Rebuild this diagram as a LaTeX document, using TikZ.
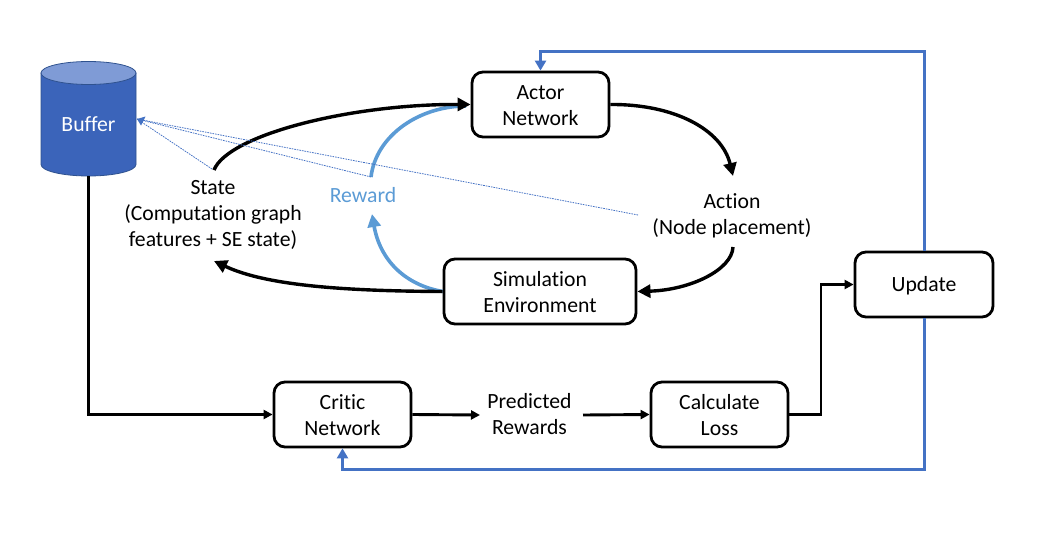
\documentclass[tikz,border=0pt]{standalone}
\usepackage{fontspec}
\setmainfont[Ligatures=NoCommon]{Carlito}
\usetikzlibrary{arrows.meta}
\definecolor{blueline}{HTML}{4472C4}
\definecolor{lightblueline}{HTML}{5B9BD5}
\definecolor{bufferbody}{HTML}{3B64BA}
\definecolor{buffertop}{HTML}{7F9BD6}
\definecolor{bufferedge}{HTML}{2F528F}
\newcommand{\boxstrut}{\rule{0pt}{17pt}}
\tikzset{
  box/.style={draw=black,line width=2.8pt,rounded corners=11pt,fill=white,align=center,font=\fontsize{21.7}{26}\selectfont,inner sep=0pt},
  label/.style={align=center,font=\fontsize{21.7}{26}\selectfont,inner sep=0pt},
  thickarc/.style={draw=black,line width=3.4pt,-{Triangle[length=13pt,width=13pt]}},
  elbow/.style={draw=black,line width=2.9pt,-{Triangle[length=9pt,width=9pt]}},
  updateline/.style={draw=blueline,line width=3pt,-{Triangle[length=10pt,width=11pt]}},
  rewardarc/.style={draw=lightblueline,line width=3.6pt},
  dotline/.style={draw=blueline,line width=0.8pt,dash pattern=on 1.6pt off 1pt},
  cylpart/.style={draw=bufferedge,line width=0.8pt},
}
\begin{document}
\begin{tikzpicture}[x=1pt,y=-1pt]
\useasboundingbox (0,0) rectangle (1050,546);
% buffer drum
\path[cylpart,fill=bufferbody] (41,73) -- (41,164.5) arc[start angle=180,end angle=360,x radius=47.5,y radius=-11.5] -- (136,73) -- cycle;
\path[cylpart,fill=buffertop] (88.5,73) ellipse[x radius=47.5,y radius=11.5];
% nodes
\node[box,minimum width=137pt,minimum height=65pt] (actor) at (540.5,104.5) {\boxstrut Actor\\Network};
\node[box,minimum width=192pt,minimum height=65pt] (sim) at (540,291.5) {\boxstrut Simulation\\Environment};
\node[box,minimum width=138pt,minimum height=65pt] (update) at (924,284.5) {\boxstrut Update};
\node[box,minimum width=137pt,minimum height=65pt] (critic) at (342.5,414.5) {\boxstrut Critic\\Network};
\node[box,minimum width=137pt,minimum height=65pt] (loss) at (719.5,414.5) {\boxstrut Calculate\\Loss};
\node[label] (state) at (213,215) {State\\(Computation graph\\features + SE state)};
\node[label] (action) at (732,216) {Action\\(Node placement)};
\node[label,text=lightblueline] (reward) at (363,195) {Reward};
\node[label] (pred) at (529.5,414) {Predicted\\Rewards};
\node[label,text=white,minimum width=95pt,minimum height=104pt] (buffer) at (88.5,124) {Buffer};
% named free ends
\coordinate (stateout) at (214,170);
\coordinate (statein) at (214,261);
\coordinate (bufferin) at (137,119);
\coordinate (actionin) at (733,176);
\coordinate (actionout) at (733,247);
\coordinate (rewardin) at (372,214);
\coordinate (rewardout) at (371,177);
\coordinate (dotstate) at (212,169);
\coordinate (dotaction) at (638,215);
\coordinate (predin) at (480,415);
\coordinate (predout) at (583,415);
% blue reward arcs
\draw[rewardarc] (rewardout) .. controls (376,135) and (420,106) .. (466,106);
\draw[rewardarc,-{Triangle[length=13pt,width=13pt]}] (sim.west) .. controls (405,285) and (380,260) .. (rewardin);
% black arcs
\draw[thickarc] (stateout) .. controls (228,135) and (350,104) .. (actor.west);
\draw[thickarc] (actor.east) .. controls (675,104) and (722,130) .. (actionin);
\draw[thickarc] (actionout) .. controls (732,270) and (690,290) .. (sim.east);
\draw[thickarc] (sim.west) .. controls (340,291) and (265,285) .. (statein);
% thin dotted to buffer
\draw[dotline] (dotstate) -- (bufferin);
\draw[dotline] (rewardout) -- (bufferin);
\draw[dotline] (dotaction) -- (bufferin);
\fill[blueline] (bufferin) -- (145.5,116.5) -- (141,125.5) -- cycle;
% lower row
\draw[elbow] (buffer.south) |- (critic.west);
\draw[elbow] (critic.east) -- (predin);
\draw[elbow] (predout) -- (loss.west);
\draw[elbow] (loss.east) -- (821,414.5) |- (update.west);
% update feedback
\draw[updateline] (update.north) -- (924,51) -| (actor.north);
\draw[updateline] (update.south) -- (924,469) -| (critic.south);
\end{tikzpicture}
\end{document}
